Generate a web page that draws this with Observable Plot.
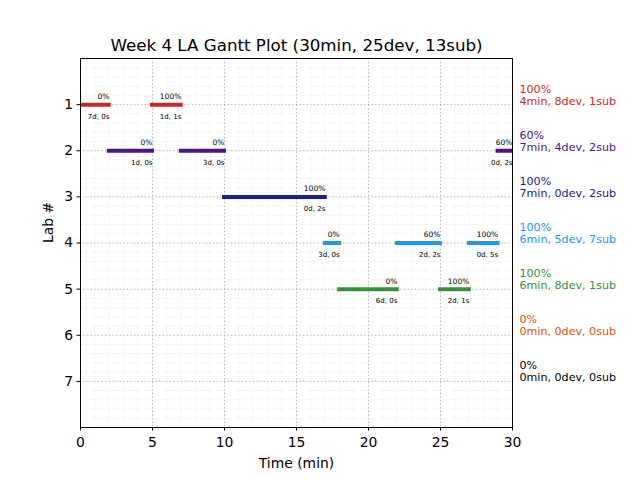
<!DOCTYPE html>
<html>
<head>
<meta charset="utf-8">
<script src="https://cdn.jsdelivr.net/npm/d3@7"></script>
<script src="https://cdn.jsdelivr.net/npm/@observablehq/plot@0.6"></script>
<style>
  html, body { margin: 0; padding: 0; background: #fff; }
  svg { font-family: "DejaVu Sans", sans-serif; }
</style>
</head>
<body>
<div id="chart"></div>
<script>
// Bars (one entry per bar)
const barLab   = [1, 1, 2, 2, 2, 3, 4, 4, 4, 5, 5];
const barStart = [0, 5, 2, 7, 29, 10, 17, 22, 27, 18, 25];
const barEnd   = [2, 7, 5, 10, 30, 17, 18, 25, 29, 22, 27];
const barPct   = ["0%", "100%", "0%", "0%", "60%", "100%", "0%", "60%", "100%", "0%", "100%"];
const barInfo  = ["7d, 0s", "1d, 1s", "1d, 0s", "3d, 0s", "0d, 2s", "0d, 2s", "3d, 0s", "2d, 2s", "0d, 5s", "6d, 0s", "2d, 1s"];

// Per-lab summary
const labs     = [1, 2, 3, 4, 5, 6, 7];
const labPct   = ["100%", "60%", "100%", "100%", "100%", "0%", "0%"];
const labMin   = [4, 7, 7, 6, 6, 0, 0];
const labDev   = [8, 4, 0, 5, 8, 0, 0];
const labSub   = [1, 2, 2, 7, 1, 0, 0];
const labColor = ["#c62828", "#4a148c", "#1a237e", "#2196f3", "#388e3c", "#e65100", "#000000"];

const xTicks = [0, 5, 10, 15, 20, 25, 30];
const yTicks = [1, 2, 3, 4, 5, 6, 7];
const title = "Week 4 LA Gantt Plot (30min, 25dev, 13sub)";

const bars = barLab.map((lab, i) => ({lab, start: barStart[i], end: barEnd[i], pct: barPct[i], info: barInfo[i], color: labColor[lab - 1]}));
const summary = labs.map((lab, i) => ({lab, text: `${labPct[i]}\n${labMin[i]}min, ${labDev[i]}dev, ${labSub[i]}sub`, color: labColor[i]}));

const chart = Plot.plot({
  width: 640,
  height: 480,
  marginLeft: 80,
  marginRight: 128,
  marginTop: 58,
  marginBottom: 53,
  style: {fontFamily: "DejaVu Sans, sans-serif", background: "#fff"},
  x: {domain: [0, 30]},
  y: {domain: [8, 0]},
  marks: [
    Plot.gridX({ticks: d3.range(0, 31, 1), stroke: "#f6f6f6", strokeOpacity: 1}),
    Plot.gridY({ticks: d3.range(0, 8.01, 0.2), stroke: "#f6f6f6", strokeOpacity: 1}),
    Plot.gridX({ticks: xTicks, stroke: "#b0b0b0", strokeOpacity: 1, strokeDasharray: "1.2,2.4"}),
    Plot.gridY({ticks: yTicks, stroke: "#b0b0b0", strokeOpacity: 1, strokeDasharray: "1.2,2.4"}),
    Plot.ruleY(bars, {x1: "start", x2: "end", y: "lab", stroke: "color", strokeWidth: 4, strokeLinecap: "square", clip: true}),
    Plot.text(bars, {x: "end", y: "lab", text: "pct", textAnchor: "end", dy: -8, fontSize: 7.5, fill: "#000"}),
    Plot.text(bars, {x: "end", y: "lab", text: "info", textAnchor: "end", dy: 12, fontSize: 7, fill: "#000"}),
    Plot.text(summary, {x: 30, y: "lab", text: "text", fill: "color", textAnchor: "start", lineAnchor: "bottom", dx: 7, dy: 0, fontSize: 11.1, lineHeight: 1.08}),
    Plot.frame({stroke: "#000", strokeWidth: 1}),
    Plot.axisX({ticks: xTicks, tickSize: 3.5, tickPadding: 6, fontSize: 13.9, label: null, color: "#000"}),
    Plot.axisY({ticks: yTicks, tickSize: 3.5, tickPadding: 4, fontSize: 13.9, label: null, color: "#000"}),
    Plot.text([title], {frameAnchor: "top", text: d => d, dy: -13, fontSize: 16.7, fill: "#000", lineAnchor: "middle"}),
    Plot.text(["Time (min)"], {frameAnchor: "bottom", text: d => d, dy: 36, fontSize: 13.9, fill: "#000", lineAnchor: "middle"}),
    Plot.text(["Lab #"], {frameAnchor: "left", text: d => d, dx: -32, rotate: -90, fontSize: 13.9, fill: "#000", lineAnchor: "middle"})
  ]
});
document.getElementById("chart").appendChild(chart);
</script>
</body>
</html>
